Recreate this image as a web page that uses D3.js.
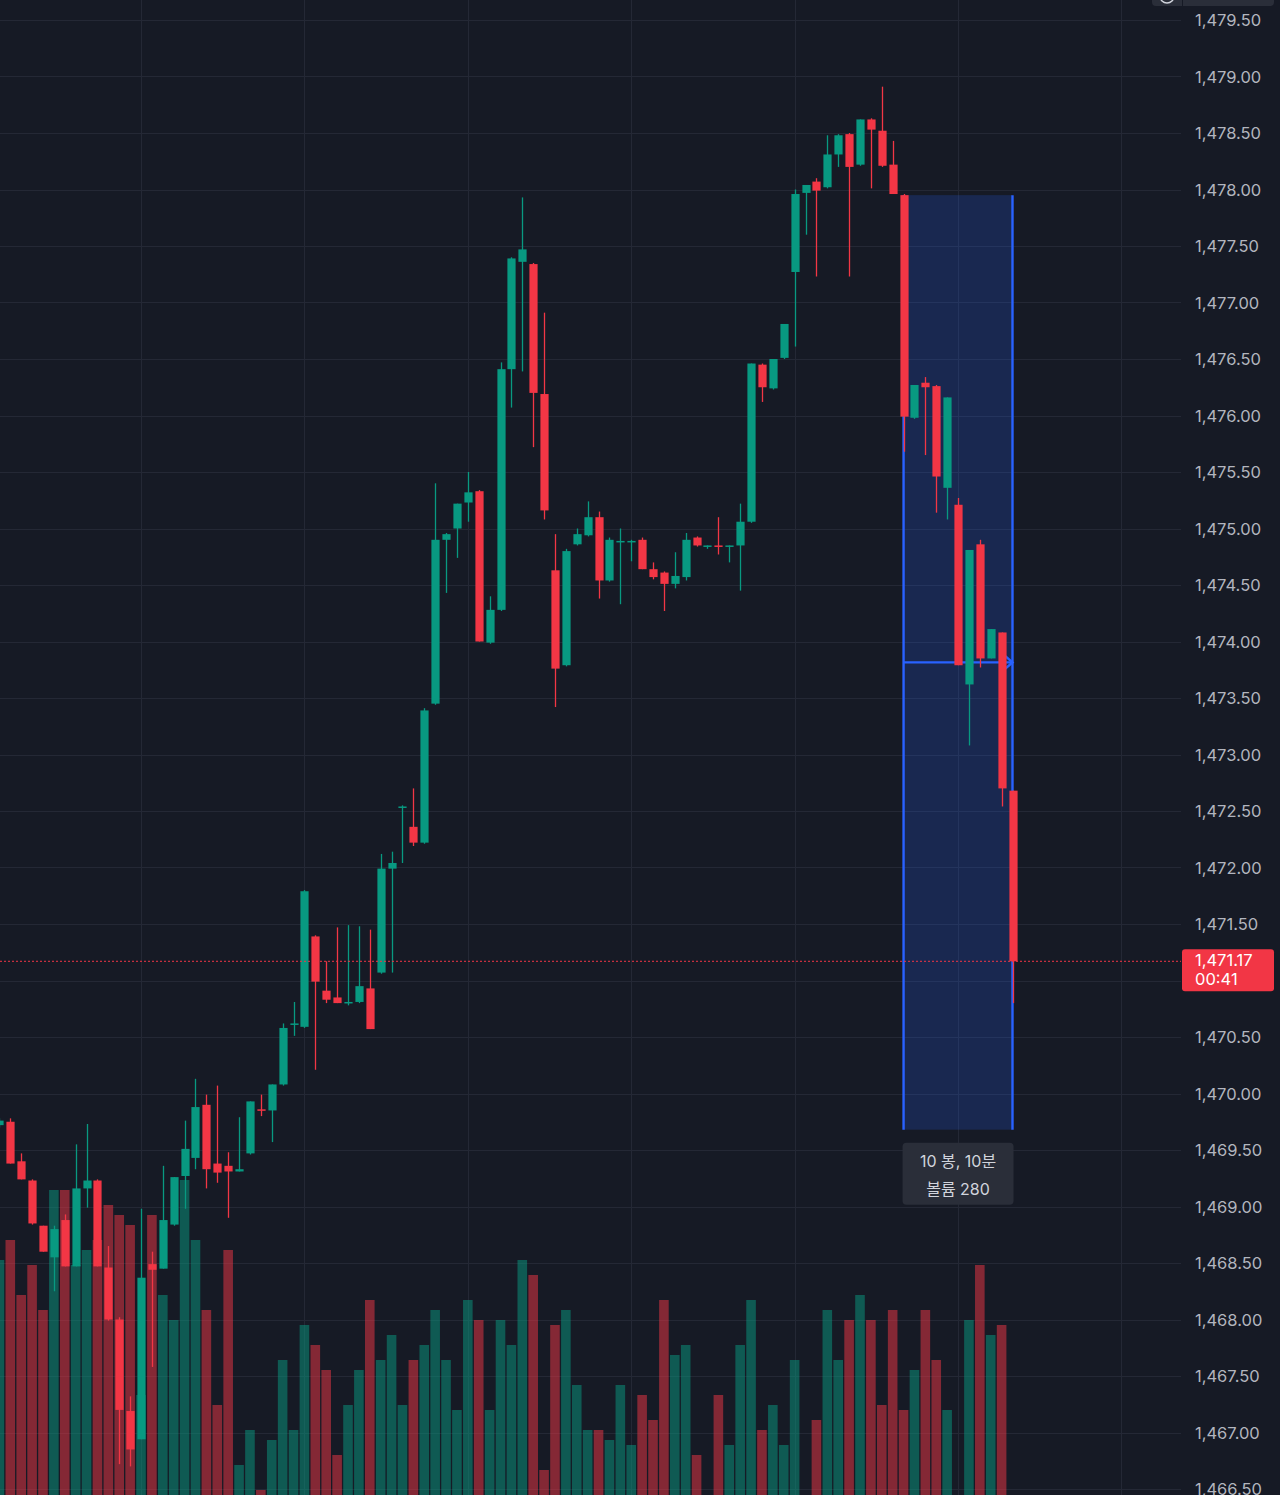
<!DOCTYPE html>
<html><head><meta charset="utf-8">
<script src="https://cdn.jsdelivr.net/npm/d3@7"></script>
<style>html,body{margin:0;padding:0;background:#161a25;overflow:hidden}</style>
</head><body><svg id="c" width="1280" height="1495"></svg>
<script>
// ---- data (chronological, oldest first) ----
const opens  = [1469.72,1469.75,1469.40,1469.23,1468.83,1468.55,1468.88,1468.47,1469.16,1469.23,1468.46,1468.00,1467.19,1466.94,1468.49,1468.45,1468.84,1469.27,1469.43,1469.90,1469.38,1469.36,1469.31,1469.47,1469.86,1469.85,1470.08,1470.61,1470.59,1471.39,1470.91,1470.85,1470.80,1470.81,1470.93,1471.07,1471.99,1472.53,1472.36,1472.22,1473.45,1474.90,1475.00,1475.23,1475.33,1473.99,1474.28,1476.41,1477.36,1477.34,1476.19,1474.63,1473.79,1474.86,1474.94,1475.10,1474.54,1474.88,1474.88,1474.90,1474.64,1474.61,1474.51,1474.57,1474.92,1474.84,1474.85,1474.84,1474.85,1475.06,1476.45,1476.24,1476.51,1477.27,1477.97,1478.07,1478.02,1478.31,1478.49,1478.22,1478.62,1478.52,1478.22,1477.95,1475.98,1476.29,1476.26,1475.36,1475.21,1473.62,1474.86,1473.85,1474.08,1472.68];
const highs  = [1469.78,1469.78,1469.47,1469.24,1468.83,1468.83,1468.93,1469.55,1469.73,1469.24,1468.65,1468.02,1467.32,1468.98,1468.60,1469.36,1469.26,1469.76,1470.13,1469.99,1470.07,1469.48,1469.79,1469.93,1469.99,1470.08,1470.62,1470.81,1471.80,1471.40,1471.17,1471.47,1471.49,1471.48,1471.45,1472.12,1472.14,1472.55,1472.70,1473.41,1475.40,1474.96,1475.22,1475.50,1475.34,1474.40,1476.47,1477.40,1477.93,1477.35,1476.91,1474.95,1474.82,1475.00,1475.24,1475.15,1474.92,1475.00,1474.90,1474.92,1474.70,1474.62,1474.79,1474.96,1474.93,1474.85,1475.10,1474.85,1475.22,1476.46,1476.46,1476.50,1476.81,1478.00,1478.04,1478.10,1478.48,1478.49,1478.50,1478.62,1478.63,1478.91,1478.43,1477.96,1476.27,1476.34,1476.27,1476.16,1475.27,1474.81,1474.90,1474.11,1474.08,1472.68];
const lows   = [1469.70,1469.38,1469.24,1468.84,1468.60,1468.25,1468.47,1468.47,1468.99,1468.47,1467.99,1466.72,1466.70,1466.94,1467.58,1468.45,1468.83,1468.98,1469.33,1469.16,1469.21,1468.90,1469.31,1469.46,1469.80,1469.57,1470.07,1470.51,1470.58,1470.21,1470.80,1470.80,1470.78,1470.80,1470.57,1471.06,1471.07,1472.04,1472.19,1472.21,1473.44,1474.43,1474.74,1475.06,1474.00,1473.98,1474.27,1476.07,1476.39,1475.72,1475.08,1473.42,1473.78,1474.85,1474.93,1474.38,1474.53,1474.33,1474.71,1474.64,1474.55,1474.27,1474.47,1474.54,1474.84,1474.82,1474.77,1474.70,1474.45,1475.05,1476.12,1476.23,1476.50,1476.61,1477.60,1477.23,1478.01,1478.20,1477.23,1478.21,1478.01,1478.20,1477.96,1475.68,1475.97,1475.65,1475.14,1475.08,1473.79,1473.08,1473.77,1473.85,1472.54,1470.80];
const closes = [1469.76,1469.38,1469.24,1468.85,1468.60,1468.80,1468.47,1469.16,1469.23,1468.47,1468.00,1467.20,1466.85,1468.37,1468.44,1468.88,1469.26,1469.51,1469.88,1469.33,1469.30,1469.31,1469.33,1469.93,1469.85,1470.08,1470.58,1470.62,1471.79,1470.99,1470.83,1470.80,1470.81,1470.95,1470.57,1471.99,1472.04,1472.54,1472.22,1473.39,1474.90,1474.95,1475.22,1475.32,1474.00,1474.28,1476.41,1477.39,1477.47,1476.20,1475.16,1473.76,1474.80,1474.95,1475.10,1474.54,1474.90,1474.89,1474.89,1474.64,1474.57,1474.51,1474.58,1474.90,1474.85,1474.85,1474.84,1474.85,1475.06,1476.46,1476.25,1476.50,1476.81,1477.96,1478.04,1477.99,1478.31,1478.48,1478.20,1478.62,1478.53,1478.21,1477.96,1475.99,1476.27,1476.25,1475.46,1476.16,1473.79,1474.81,1473.85,1474.11,1472.70,1471.17];
const volumes = [47,51,40,46,37,61,61,46,49,51,58,56,54,20,56,40,35,63,51,37,18,49,6,13,1,11,27,13,34,30,25,8,18,25,39,27,32,18,27,30,37,27,17,39,35,17,35,30,47,44,5,34,37,22,13,13,11,22,10,20,15,39,28,30,8,0,20,10,30,39,13,18,10,27,0,15,37,27,35,40,35,18,37,17,25,37,27,17,0,35,46,32,34,0];
const priceTicks = d3.range(1466.5, 1479.51, 0.5);
const lastPrice = 1471.17;
const countdown = "00:41";
const measureBars = [83, 93];            // first / last bar index of the range
const measurePrices = [1477.95, 1469.68]; // top / bottom of the range box
const measureLines = ["10 봉, 10분", "볼륨 280"];

// ---- layout ----
const W = 1280, H = 1495, plotRight = 1181;
const svg = d3.select("#c");
const FONT = "Inter, 'Noto Sans CJK KR', 'Noto Sans', sans-serif";
const UP = "#089981", DOWN = "#f23645", BLUE = "#2962ff";

const x = d3.scaleLinear().domain([1, 93]).range([10.3, 1012.5]);
const y = d3.scaleLinear().domain([1466.5, 1479.5]).range([1489, 20]);
const v = d3.scaleLinear().domain([0, 60]).range([1495, 1195]);

svg.append("rect").attr("width", W).attr("height", H).attr("fill", "#161a25");

// grid
const gridG = svg.append("g");
gridG.selectAll("line.h").data(priceTicks).join("line")
  .attr("x1", 0).attr("x2", plotRight)
  .attr("y1", d => Math.round(y(d)) + 0.5).attr("y2", d => Math.round(y(d)) + 0.5)
  .attr("stroke", "#242835").attr("stroke-width", 1);
const vGridIdx = d3.range(-7, 110).filter(i => (i - 88) % 15 === 0);
gridG.selectAll("line.v").data(vGridIdx).join("line")
  .attr("x1", d => Math.round(x(d)) + 0.5).attr("x2", d => Math.round(x(d)) + 0.5)
  .attr("y1", 0).attr("y2", H)
  .attr("stroke", "#242835").attr("stroke-width", 1);

const bars = opens.map((o, i) => ({i, o, h: highs[i], l: lows[i], c: closes[i], vol: volumes[i]}));

// measure box (drawn beneath the candles)
const mx0 = x(measureBars[0]), mx1 = x(measureBars[1]);
const my0 = y(measurePrices[0]), my1 = y(measurePrices[1]);
svg.append("rect").attr("x", mx0).attr("y", my0).attr("width", mx1 - mx0).attr("height", my1 - my0)
  .attr("fill", BLUE).attr("fill-opacity", 0.2);
const mg = svg.append("g").attr("stroke", BLUE).attr("stroke-width", 2.4).attr("fill", "none");
mg.append("line").attr("x1", mx0).attr("x2", mx0).attr("y1", my0).attr("y2", my1);
mg.append("line").attr("x1", mx1).attr("x2", mx1).attr("y1", my0).attr("y2", my1);
const midY = (my0 + my1) / 2;
mg.append("line").attr("x1", mx0).attr("x2", mx1).attr("y1", midY).attr("y2", midY);
mg.append("path").attr("d", `M${mx1 - 8},${midY - 7} L${mx1},${midY} L${mx1 - 8},${midY + 7}`);

// volume
svg.append("g").selectAll("rect").data(bars.filter(d => d.vol > 0)).join("rect")
  .attr("x", d => x(d.i) - 4.8).attr("width", 9.6)
  .attr("y", d => v(d.vol)).attr("height", d => v(0) - v(d.vol))
  .attr("fill", d => d.c >= d.o ? UP : DOWN).attr("fill-opacity", 0.5);

// candles
const cg = svg.append("g");
cg.selectAll("line").data(bars).join("line")
  .attr("x1", d => Math.round(x(d.i)) + 0.5).attr("x2", d => Math.round(x(d.i)) + 0.5)
  .attr("y1", d => y(d.h)).attr("y2", d => y(d.l))
  .attr("stroke", d => d.c >= d.o ? UP : DOWN).attr("stroke-width", 1.3);
cg.selectAll("rect").data(bars).join("rect")
  .attr("x", d => Math.round(x(d.i)) + 0.5 - 4.1).attr("width", 8.2)
  .attr("y", d => y(Math.max(d.o, d.c)))
  .attr("height", d => Math.max(1.5, Math.abs(y(d.o) - y(d.c))))
  .attr("fill", d => d.c >= d.o ? UP : DOWN);

// current price line
svg.append("line").attr("x1", 0).attr("x2", plotRight)
  .attr("y1", y(lastPrice)).attr("y2", y(lastPrice))
  .attr("stroke", DOWN).attr("stroke-width", 1).attr("stroke-dasharray", "2,2");

// measure tooltip
const tipW = 111, tipH = 62, tipX = (mx0 + mx1) / 2 - tipW / 2, tipY = my1 + 13;
svg.append("rect").attr("x", tipX).attr("y", tipY).attr("width", tipW).attr("height", tipH)
  .attr("rx", 4).attr("fill", "#2a2e39");
svg.append("g").selectAll("text").data(measureLines).join("text")
  .attr("x", tipX + tipW / 2).attr("y", (d, k) => tipY + 18 + k * 28)
  .attr("text-anchor", "middle").attr("dominant-baseline", "central")
  .attr("font-family", FONT).attr("font-size", 16).attr("fill", "#d1d4dc").text(d => d);

// price axis labels (those hidden by the last-price label are skipped)
const fmt = d3.format(",.2f");
const ly = y(lastPrice);
const visibleTicks = priceTicks.filter(d => y(d) < ly - 22 || y(d) > ly + 40);
svg.append("g").selectAll("text").data(visibleTicks).join("text")
  .attr("x", 1195).attr("y", d => y(d))
  .attr("dominant-baseline", "central")
  .attr("font-family", FONT).attr("font-size", 16.5).attr("fill", "#b2b5be")
  .text(d => fmt(d));

// current price label
svg.append("rect").attr("x", 1182).attr("y", ly - 12).attr("width", 92).attr("height", 42)
  .attr("rx", 3).attr("fill", DOWN);
svg.append("text").attr("x", 1195).attr("y", ly - 1).attr("dominant-baseline", "central")
  .attr("font-family", FONT).attr("font-size", 16.5).attr("fill", "#ffffff").text(fmt(lastPrice));
svg.append("text").attr("x", 1195).attr("y", ly + 18).attr("dominant-baseline", "central")
  .attr("font-family", FONT).attr("font-size", 16.5).attr("fill", "#ffffff").text(countdown);

// top-right control (partially visible)
svg.append("rect").attr("x", 1152).attr("y", -20).attr("width", 122).attr("height", 26)
  .attr("rx", 4).attr("fill", "#2a2e39");
svg.append("line").attr("x1", 1182.5).attr("x2", 1182.5).attr("y1", -20).attr("y2", 6)
  .attr("stroke", "#161a25").attr("stroke-width", 1);
svg.append("circle").attr("cx", 1167).attr("cy", -4).attr("r", 7)
  .attr("fill", "none").attr("stroke", "#d1d4dc").attr("stroke-width", 1.5);
</script></body></html>
